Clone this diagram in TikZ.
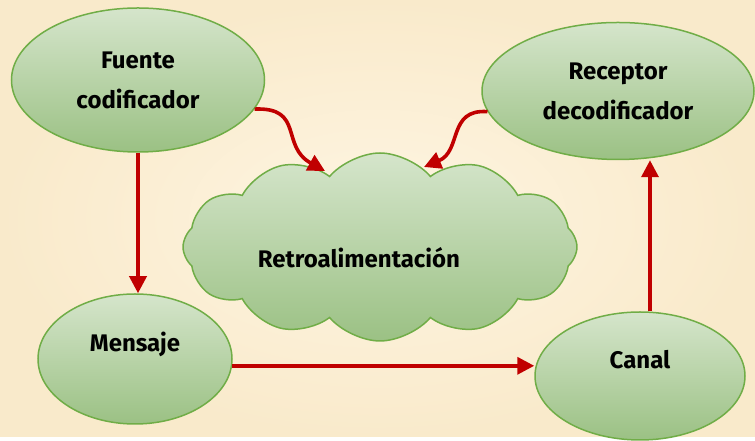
\documentclass[tikz,border=0pt]{standalone}
\usepackage{fontspec}
\setmainfont{Fira Sans}
\usetikzlibrary{shapes.geometric,shapes.symbols,arrows.meta}
\definecolor{bgin}{HTML}{FEF5E2}
\definecolor{bgout}{HTML}{F9EACB}
\definecolor{leaftop}{HTML}{D5E5CB}
\definecolor{leafbot}{HTML}{9BC184}
\definecolor{leafline}{HTML}{70AD47}
\definecolor{arrred}{HTML}{C00000}

\begin{document}
\begin{tikzpicture}[x=1pt,y=1pt,
  txt/.style = {align=center, font=\fontsize{24}{40}\selectfont\bfseries},
  main/.style = {draw=leafline, line width=1.5pt, ellipse, top color=leaftop, bottom color=leafbot, inner sep=0pt, txt},
  arr/.style = {draw=arrred, line width=3.6pt, -{Triangle[length=17pt,width=17pt]}}]
  \fill[inner color=bgin, outer color=bgout] (0,0) rectangle (755,437);
  \node[main, minimum width=253pt, minimum height=144pt] (fuente) at (138,357) {Fuente\\codificador};
  \node[main, minimum width=272pt, minimum height=137pt] (receptor) at (618,346) {Receptor\\decodificador};
  \node[main, minimum width=194pt, minimum height=130pt, text height=17pt, text depth=31pt] (mensaje) at (135,78) {Mensaje};
  \node[main, minimum width=210pt, minimum height=128pt, text height=17pt, text depth=31pt] (canal) at (640,61) {Canal};
  \node[main, cloud, cloud puffs=12, cloud puff arc=100, minimum width=394pt, minimum height=188pt] (retro) at (380,190) {};
  \node[txt] (retrotxt) at (359,179) {Retroalimentación};
  % flechas
  \draw[arr] (fuente.south) -- (fuente.south |- mensaje.north);
  \draw[arr] (mensaje.-4) -- (mensaje.-4 -| canal.west);
  \draw[arr] ([xshift=10pt]canal.north) -- ([xshift=10pt]canal.north |- receptor.south);
  \draw[arr] (fuente.-14) .. controls +(50,2) and +(-45,25) .. ([xshift=-55pt,yshift=76pt]retro.center);
  \draw[arr] (receptor.189) .. controls +(-40,3) and +(38,16) .. ([xshift=44pt,yshift=80pt]retro.center);
\end{tikzpicture}
\end{document}
